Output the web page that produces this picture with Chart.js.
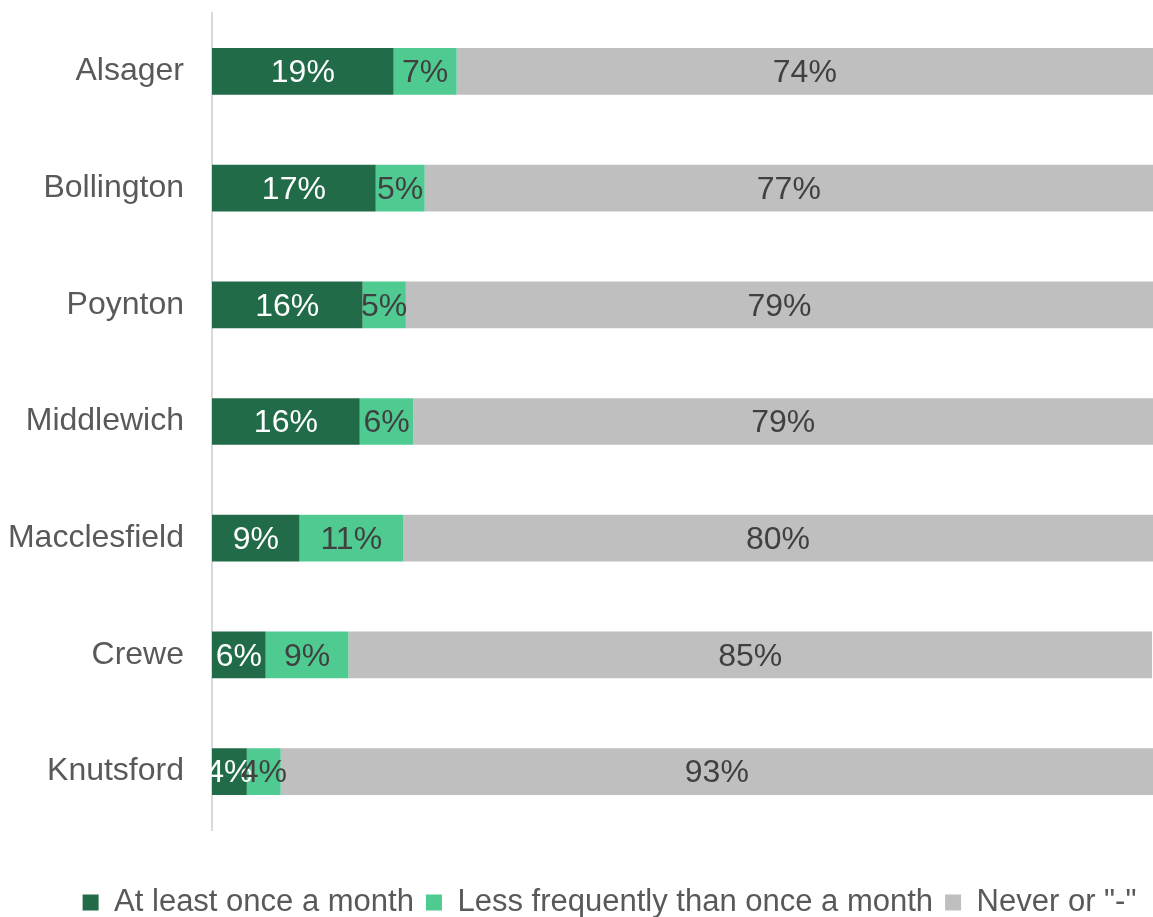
<!DOCTYPE html>
<html>
<head>
<meta charset="utf-8">
<script src="https://cdn.jsdelivr.net/npm/chart.js@4"></script>
<style>
  html, body { margin: 0; padding: 0; background: #fff; }
  #wrap { width: 1153px; height: 917px; }
</style>
</head>
<body>
<div id="wrap"><canvas id="chart" width="1153" height="917"></canvas></div>
<script>
// Data
const towns = ['Alsager', 'Bollington', 'Poynton', 'Middlewich', 'Macclesfield', 'Crewe', 'Knutsford'];
const monthly = [19.3, 17.4, 16.0, 15.7, 9.3, 5.7, 3.7];
const lessOften = [6.7, 5.2, 4.6, 5.7, 11.0, 8.8, 3.6];
const never = [74.0, 77.4, 79.4, 78.6, 79.7, 85.4, 92.7];
const seriesNames = ['At least once a month', 'Less frequently than once a month', 'Never or "-"'];

const FONT = "'Liberation Sans', Arial, sans-serif";

// draws the % label in the middle of each bar segment
const barLabels = {
    id: 'barLabels',
    afterDatasetsDraw(chart) {
        const ctx = chart.ctx;
        ctx.save();
        ctx.font = '32px ' + FONT;
        ctx.textAlign = 'center';
        ctx.textBaseline = 'middle';
        chart.data.datasets.forEach((ds, i) => {
            const meta = chart.getDatasetMeta(i);
            meta.data.forEach((bar, j) => {
                const cx = (bar.x + bar.base) / 2;
                ctx.fillStyle = i === 0 ? '#FFFFFF' : '#404040';
                ctx.fillText(Math.round(ds.data[j]) + '%', cx, bar.y + 2);
            });
        });
        ctx.restore();
    }
};

const ctx = document.getElementById('chart').getContext('2d');
new Chart(ctx, {
    type: 'bar',
    data: {
        labels: towns,
        datasets: [
            { label: seriesNames[0], data: monthly, backgroundColor: '#216B49' },
            { label: seriesNames[1], data: lessOften, backgroundColor: '#4FCB91' },
            { label: seriesNames[2], data: never, backgroundColor: '#BFBFBF' }
        ]
    },
    options: {
        indexAxis: 'y',
        responsive: false,
        animation: false,
        categoryPercentage: 1,
        barPercentage: 0.4,
        layout: { padding: { top: 13, left: 66, right: 0, bottom: -11 } },
        scales: {
            x: {
                stacked: true,
                min: 0,
                max: 100,
                grid: { display: false },
                border: { display: false },
                ticks: { display: false },
                afterFit: (scale) => { scale.height = 45; }
            },
            y: {
                stacked: true,
                grid: { display: false },
                border: { display: true, color: '#D9D9D9', width: 2 },
                ticks: {
                    color: '#595959',
                    padding: 20,
                    font: { family: FONT, size: 32 }
                },
                afterFit: (scale) => {
                    scale.width = 146;
                    scale.paddingTop = 0;
                    scale.paddingBottom = 0;
                    // let the long town names run into the left padding
                    scale._computeLabelArea = () => undefined;
                }
            }
        },
        plugins: {
            legend: {
                position: 'bottom',
                labels: {
                    color: '#595959',
                    boxWidth: 16,
                    boxHeight: 16,
                    padding: 12,
                    font: { family: FONT, size: 31 }
                }
            },
            tooltip: { enabled: false }
        }
    },
    plugins: [barLabels]
});
</script>
</body>
</html>
